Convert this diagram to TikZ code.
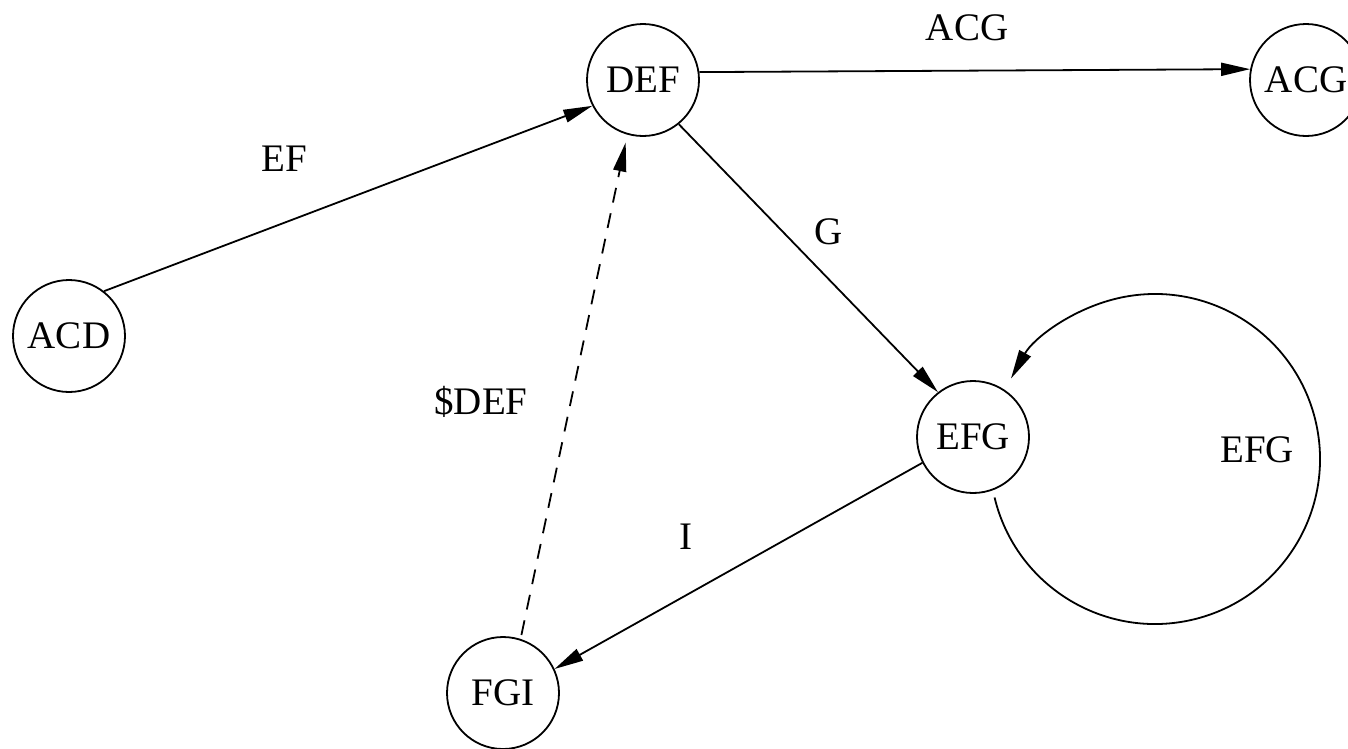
\documentclass[tikz,border=0pt]{standalone}
\usepackage{fontspec}
\setmainfont{Liberation Serif}
\usetikzlibrary{arrows.meta,calc}
\begin{document}
\begin{tikzpicture}[x=1pt,y=-1pt,
  state/.style={draw,circle,line width=1.8pt,minimum size=112pt,inner sep=0pt,
    font=\fontsize{39}{45}\selectfont},
  lbl/.style={inner sep=0pt,font=\fontsize{39}{45}\selectfont},
  edge/.style={line width=1.8pt,-{Triangle[length=29pt,width=13pt]}},
  dashedge/.style={edge,dash pattern=on 15pt off 11pt}]
  \useasboundingbox (0,0) rectangle (1348,748);
  % states
  \node[state] (acd) at (69,336) {ACD};
  \node[state] (def) at (643,80) {DEF};
  \node[state] (acg) at (1306,80) {ACG};
  \node[state] (efg) at (973,437) {EFG};
  \node[state] (fgi) at (503,693) {FGI};
  % transitions
  \draw[edge] (acd.52) -- (def.207);
  \draw[edge] (def.8) -- (acg.169.5);
  \draw[edge] (def.-51) -- (efg.128.5);
  \draw[edge] (efg.207) -- (fgi.25.7);
  \draw[dashedge,shorten <=4pt,shorten >=8pt] (fgi.72.8) -- (def.254);
  % self loop on EFG
  \coordinate (loopc) at (1155,459);
  \draw[edge] ($(loopc)+(166.5:165)$) arc[start angle=166.5,end angle=-150.8,radius=165];
  % transition labels
  \node[lbl] (l-ef)   at (284,159)  {EF};
  \node[lbl] (l-acg)  at (967,28)   {ACG};
  \node[lbl] (l-g)    at (829,232)  {G};
  \node[lbl] (l-i)    at (686,537)  {I};
  \node[lbl] (l-sdef) at (481,402)  {\$DEF};
  \node[lbl] (l-efg)  at (1257,450) {EFG};
\end{tikzpicture}
\end{document}
